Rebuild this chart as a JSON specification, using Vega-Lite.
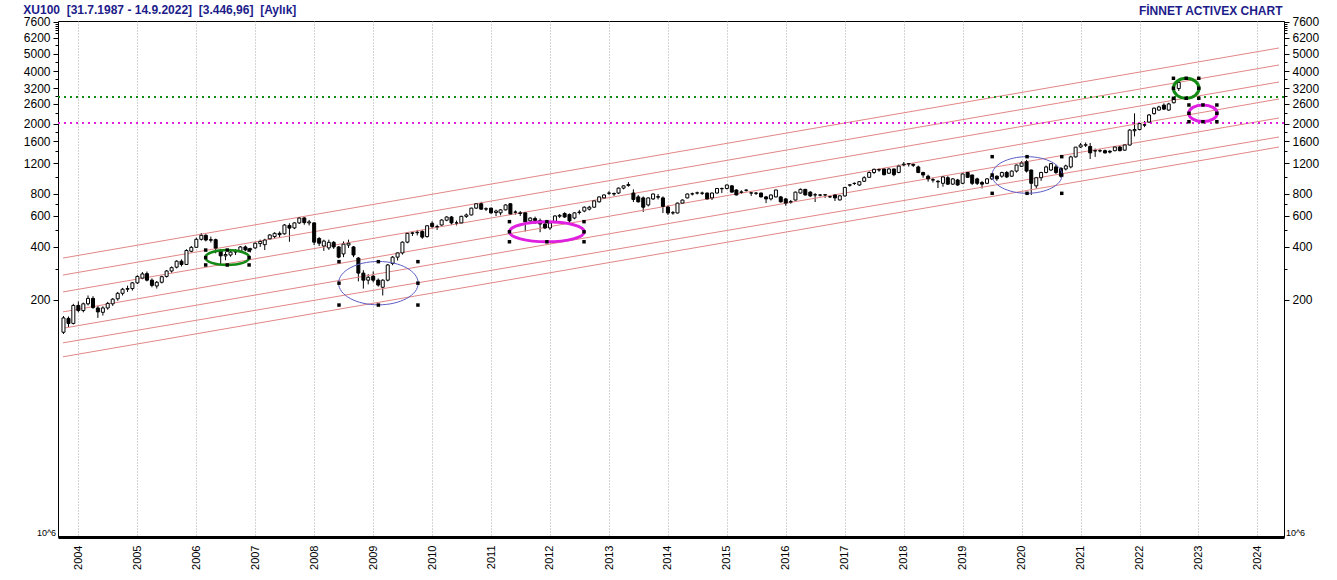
{
  "$schema": "https://vega.github.io/schema/vega-lite/v6.json",
  "autosize": "none",
  "width": 1226,
  "height": 516,
  "padding": {"left": 58, "top": 21, "right": 53, "bottom": 43},
  "background": "white",
  "title": {
    "text": "XU100\u00a0 [31.7.1987 - 14.9.2022]\u00a0 [3.446,96]\u00a0 [Aylık]",
    "anchor": "start",
    "frame": "bounds",
    "font": "Liberation Sans",
    "fontSize": 12,
    "fontWeight": "bold",
    "color": "#1c1c8a",
    "offset": 0,
    "dy": 13
  },
  "config": {
    "font": "Liberation Sans",
    "view": {"stroke": "black", "strokeWidth": 1}
  },
  "datasets": {
    "ohlc": [
      {"d": "2003-10-01", "o": 131, "h": 162, "l": 128, "c": 158},
      {"d": "2003-11-01", "o": 157, "h": 161, "l": 140, "c": 147},
      {"d": "2003-12-01", "o": 147, "h": 190, "l": 145, "c": 186},
      {"d": "2004-01-01", "o": 186, "h": 196, "l": 170, "c": 174},
      {"d": "2004-02-01", "o": 174, "h": 193, "l": 170, "c": 190},
      {"d": "2004-03-01", "o": 190, "h": 212, "l": 186, "c": 204},
      {"d": "2004-04-01", "o": 204, "h": 210, "l": 178, "c": 181},
      {"d": "2004-05-01", "o": 180, "h": 185, "l": 158, "c": 171},
      {"d": "2004-06-01", "o": 170, "h": 184, "l": 163, "c": 180},
      {"d": "2004-07-01", "o": 180, "h": 195, "l": 176, "c": 191},
      {"d": "2004-08-01", "o": 190, "h": 205, "l": 185, "c": 202},
      {"d": "2004-09-01", "o": 203, "h": 222, "l": 198, "c": 218},
      {"d": "2004-10-01", "o": 218, "h": 234, "l": 212, "c": 230},
      {"d": "2004-11-01", "o": 230, "h": 241, "l": 222, "c": 232},
      {"d": "2004-12-01", "o": 232, "h": 253, "l": 226, "c": 250},
      {"d": "2005-01-01", "o": 250, "h": 276, "l": 246, "c": 272},
      {"d": "2005-02-01", "o": 266, "h": 288, "l": 262, "c": 281},
      {"d": "2005-03-01", "o": 282, "h": 290, "l": 255, "c": 259},
      {"d": "2005-04-01", "o": 259, "h": 265, "l": 236, "c": 242},
      {"d": "2005-05-01", "o": 240, "h": 256, "l": 232, "c": 252},
      {"d": "2005-06-01", "o": 252, "h": 275, "l": 248, "c": 271},
      {"d": "2005-07-01", "o": 272, "h": 296, "l": 268, "c": 292},
      {"d": "2005-08-01", "o": 292, "h": 310, "l": 285, "c": 305},
      {"d": "2005-09-01", "o": 307, "h": 336, "l": 302, "c": 332},
      {"d": "2005-10-01", "o": 332, "h": 340, "l": 310, "c": 318},
      {"d": "2005-11-01", "o": 318, "h": 388, "l": 316, "c": 382},
      {"d": "2005-12-01", "o": 378, "h": 405, "l": 372, "c": 398},
      {"d": "2006-01-01", "o": 398, "h": 452, "l": 395, "c": 442},
      {"d": "2006-02-01", "o": 442, "h": 480, "l": 435, "c": 466},
      {"d": "2006-03-01", "o": 466, "h": 472, "l": 430, "c": 438},
      {"d": "2006-04-01", "o": 440, "h": 458, "l": 424, "c": 437},
      {"d": "2006-05-01", "o": 440, "h": 446, "l": 368, "c": 394},
      {"d": "2006-06-01", "o": 382, "h": 388, "l": 318, "c": 356},
      {"d": "2006-07-01", "o": 356, "h": 375, "l": 336, "c": 362},
      {"d": "2006-08-01", "o": 360, "h": 382, "l": 352, "c": 374},
      {"d": "2006-09-01", "o": 374, "h": 388, "l": 360, "c": 378},
      {"d": "2006-10-01", "o": 378, "h": 405, "l": 372, "c": 400},
      {"d": "2006-11-01", "o": 400, "h": 408, "l": 378, "c": 385},
      {"d": "2006-12-01", "o": 385, "h": 396, "l": 372, "c": 391},
      {"d": "2007-01-01", "o": 395, "h": 425, "l": 390, "c": 420},
      {"d": "2007-02-01", "o": 418, "h": 440, "l": 400, "c": 430},
      {"d": "2007-03-01", "o": 412, "h": 445, "l": 384, "c": 438},
      {"d": "2007-04-01", "o": 445, "h": 472, "l": 440, "c": 468},
      {"d": "2007-05-01", "o": 458, "h": 485, "l": 448, "c": 478},
      {"d": "2007-06-01", "o": 478, "h": 490, "l": 450, "c": 470},
      {"d": "2007-07-01", "o": 475, "h": 540, "l": 470, "c": 533},
      {"d": "2007-08-01", "o": 530, "h": 545, "l": 428, "c": 512},
      {"d": "2007-09-01", "o": 513, "h": 552, "l": 505, "c": 548},
      {"d": "2007-10-01", "o": 548, "h": 592, "l": 540, "c": 584},
      {"d": "2007-11-01", "o": 585, "h": 590, "l": 535, "c": 550},
      {"d": "2007-12-01", "o": 548, "h": 570, "l": 530, "c": 555},
      {"d": "2008-01-01", "o": 548, "h": 552, "l": 410, "c": 426},
      {"d": "2008-02-01", "o": 447, "h": 455, "l": 405, "c": 420},
      {"d": "2008-03-01", "o": 405, "h": 440, "l": 380, "c": 432},
      {"d": "2008-04-01", "o": 395, "h": 440, "l": 385, "c": 425},
      {"d": "2008-05-01", "o": 425, "h": 432, "l": 390, "c": 400},
      {"d": "2008-06-01", "o": 400, "h": 405, "l": 345, "c": 350},
      {"d": "2008-07-01", "o": 365, "h": 430, "l": 350, "c": 415},
      {"d": "2008-08-01", "o": 410, "h": 440, "l": 395, "c": 420},
      {"d": "2008-09-01", "o": 400, "h": 405, "l": 350, "c": 360},
      {"d": "2008-10-01", "o": 346, "h": 350, "l": 255, "c": 284},
      {"d": "2008-11-01", "o": 284, "h": 295, "l": 232, "c": 259},
      {"d": "2008-12-01", "o": 259, "h": 280, "l": 245, "c": 269},
      {"d": "2009-01-01", "o": 273, "h": 290, "l": 252, "c": 259},
      {"d": "2009-02-01", "o": 259, "h": 265, "l": 238, "c": 243},
      {"d": "2009-03-01", "o": 236, "h": 262, "l": 212, "c": 259},
      {"d": "2009-04-01", "o": 259, "h": 320, "l": 255, "c": 316},
      {"d": "2009-05-01", "o": 322, "h": 355, "l": 315, "c": 350},
      {"d": "2009-06-01", "o": 350, "h": 372, "l": 335, "c": 370},
      {"d": "2009-07-01", "o": 370, "h": 430, "l": 362, "c": 426},
      {"d": "2009-08-01", "o": 426, "h": 482, "l": 420, "c": 478},
      {"d": "2009-09-01", "o": 478, "h": 490, "l": 462, "c": 481},
      {"d": "2009-10-01", "o": 482, "h": 500, "l": 465, "c": 485},
      {"d": "2009-11-01", "o": 490, "h": 500, "l": 445, "c": 455},
      {"d": "2009-12-01", "o": 458, "h": 530, "l": 452, "c": 528},
      {"d": "2010-01-01", "o": 545, "h": 560, "l": 510, "c": 522},
      {"d": "2010-02-01", "o": 522, "h": 535, "l": 500, "c": 520},
      {"d": "2010-03-01", "o": 533, "h": 575, "l": 528, "c": 569},
      {"d": "2010-04-01", "o": 568, "h": 598, "l": 560, "c": 592},
      {"d": "2010-05-01", "o": 592, "h": 600, "l": 535, "c": 548},
      {"d": "2010-06-01", "o": 548, "h": 565, "l": 530, "c": 548},
      {"d": "2010-07-01", "o": 548, "h": 602, "l": 545, "c": 597},
      {"d": "2010-08-01", "o": 597, "h": 620, "l": 585, "c": 608},
      {"d": "2010-09-01", "o": 608, "h": 668, "l": 604, "c": 665},
      {"d": "2010-10-01", "o": 665, "h": 710, "l": 658, "c": 704},
      {"d": "2010-11-01", "o": 704, "h": 722, "l": 650, "c": 656},
      {"d": "2010-12-01", "o": 656, "h": 672, "l": 640, "c": 660},
      {"d": "2011-01-01", "o": 665, "h": 668, "l": 618, "c": 625},
      {"d": "2011-02-01", "o": 628, "h": 652, "l": 600, "c": 640},
      {"d": "2011-03-01", "o": 625, "h": 655, "l": 605, "c": 650},
      {"d": "2011-04-01", "o": 650, "h": 700, "l": 645, "c": 693},
      {"d": "2011-05-01", "o": 704, "h": 708, "l": 610, "c": 616},
      {"d": "2011-06-01", "o": 630, "h": 645, "l": 610, "c": 632},
      {"d": "2011-07-01", "o": 625, "h": 640, "l": 600, "c": 620},
      {"d": "2011-08-01", "o": 625, "h": 630, "l": 490, "c": 555},
      {"d": "2011-09-01", "o": 563, "h": 590, "l": 540, "c": 584},
      {"d": "2011-10-01", "o": 580, "h": 595, "l": 540, "c": 565},
      {"d": "2011-11-01", "o": 565, "h": 580, "l": 485, "c": 540},
      {"d": "2011-12-01", "o": 540, "h": 550, "l": 505, "c": 513},
      {"d": "2012-01-01", "o": 513, "h": 555, "l": 500, "c": 548},
      {"d": "2012-02-01", "o": 552, "h": 605, "l": 545, "c": 600},
      {"d": "2012-03-01", "o": 598, "h": 615, "l": 585, "c": 605},
      {"d": "2012-04-01", "o": 620, "h": 630, "l": 585, "c": 592},
      {"d": "2012-05-01", "o": 612, "h": 620, "l": 545, "c": 563},
      {"d": "2012-06-01", "o": 584, "h": 630, "l": 575, "c": 625},
      {"d": "2012-07-01", "o": 628, "h": 650, "l": 612, "c": 632},
      {"d": "2012-08-01", "o": 640, "h": 680, "l": 630, "c": 673},
      {"d": "2012-09-01", "o": 656, "h": 685, "l": 645, "c": 673},
      {"d": "2012-10-01", "o": 673, "h": 735, "l": 668, "c": 731},
      {"d": "2012-11-01", "o": 722, "h": 775, "l": 715, "c": 770},
      {"d": "2012-12-01", "o": 760, "h": 795, "l": 752, "c": 790},
      {"d": "2013-01-01", "o": 808, "h": 830, "l": 790, "c": 810},
      {"d": "2013-02-01", "o": 805, "h": 815, "l": 780, "c": 800},
      {"d": "2013-03-01", "o": 810, "h": 870, "l": 800, "c": 864},
      {"d": "2013-04-01", "o": 864, "h": 895, "l": 850, "c": 890},
      {"d": "2013-05-01", "o": 895, "h": 935, "l": 880, "c": 905},
      {"d": "2013-06-01", "o": 810, "h": 850, "l": 720, "c": 745},
      {"d": "2013-07-01", "o": 770, "h": 790, "l": 715, "c": 722},
      {"d": "2013-08-01", "o": 760, "h": 775, "l": 632, "c": 673},
      {"d": "2013-09-01", "o": 693, "h": 765, "l": 680, "c": 760},
      {"d": "2013-10-01", "o": 750, "h": 805, "l": 740, "c": 800},
      {"d": "2013-11-01", "o": 772, "h": 800, "l": 745, "c": 768},
      {"d": "2013-12-01", "o": 760, "h": 775, "l": 624, "c": 680},
      {"d": "2014-01-01", "o": 675, "h": 690, "l": 608, "c": 624},
      {"d": "2014-02-01", "o": 624, "h": 640, "l": 610, "c": 626},
      {"d": "2014-03-01", "o": 624, "h": 715, "l": 620, "c": 710},
      {"d": "2014-04-01", "o": 710, "h": 745, "l": 705, "c": 739},
      {"d": "2014-05-01", "o": 760, "h": 805, "l": 755, "c": 800},
      {"d": "2014-06-01", "o": 800, "h": 815, "l": 785, "c": 802},
      {"d": "2014-07-01", "o": 810, "h": 825, "l": 795, "c": 812},
      {"d": "2014-08-01", "o": 810, "h": 825, "l": 790, "c": 808},
      {"d": "2014-09-01", "o": 810, "h": 815, "l": 745, "c": 750},
      {"d": "2014-10-01", "o": 760, "h": 815, "l": 740, "c": 810},
      {"d": "2014-11-01", "o": 810, "h": 865, "l": 805, "c": 860},
      {"d": "2014-12-01", "o": 860, "h": 870, "l": 810, "c": 857},
      {"d": "2015-01-01", "o": 860, "h": 905, "l": 850, "c": 900},
      {"d": "2015-02-01", "o": 890, "h": 900, "l": 815, "c": 820},
      {"d": "2015-03-01", "o": 843, "h": 850, "l": 785, "c": 790},
      {"d": "2015-04-01", "o": 818, "h": 840, "l": 800, "c": 822},
      {"d": "2015-05-01", "o": 842, "h": 850, "l": 825, "c": 840},
      {"d": "2015-06-01", "o": 810, "h": 825, "l": 780, "c": 812},
      {"d": "2015-07-01", "o": 810, "h": 820, "l": 790, "c": 808},
      {"d": "2015-08-01", "o": 810, "h": 815, "l": 765, "c": 770},
      {"d": "2015-09-01", "o": 770, "h": 780, "l": 710, "c": 750},
      {"d": "2015-10-01", "o": 750, "h": 795, "l": 735, "c": 790},
      {"d": "2015-11-01", "o": 770, "h": 845, "l": 765, "c": 843},
      {"d": "2015-12-01", "o": 770, "h": 780, "l": 715, "c": 722},
      {"d": "2016-01-01", "o": 750, "h": 760, "l": 686, "c": 710},
      {"d": "2016-02-01", "o": 720, "h": 740, "l": 705, "c": 724},
      {"d": "2016-03-01", "o": 739, "h": 825, "l": 735, "c": 820},
      {"d": "2016-04-01", "o": 810, "h": 860, "l": 805, "c": 850},
      {"d": "2016-05-01", "o": 850, "h": 855, "l": 785, "c": 790},
      {"d": "2016-06-01", "o": 820, "h": 830, "l": 770, "c": 780},
      {"d": "2016-07-01", "o": 790, "h": 810, "l": 720, "c": 792},
      {"d": "2016-08-01", "o": 790, "h": 800, "l": 775, "c": 788},
      {"d": "2016-09-01", "o": 790, "h": 800, "l": 760, "c": 792},
      {"d": "2016-10-01", "o": 770, "h": 785, "l": 760, "c": 772},
      {"d": "2016-11-01", "o": 790, "h": 795, "l": 730, "c": 760},
      {"d": "2016-12-01", "o": 740, "h": 785, "l": 735, "c": 781},
      {"d": "2017-01-01", "o": 780, "h": 875, "l": 775, "c": 872},
      {"d": "2017-02-01", "o": 898, "h": 910, "l": 880, "c": 902},
      {"d": "2017-03-01", "o": 918, "h": 930, "l": 900, "c": 920},
      {"d": "2017-04-01", "o": 900, "h": 945, "l": 890, "c": 940},
      {"d": "2017-05-01", "o": 945, "h": 1010, "l": 935, "c": 990},
      {"d": "2017-06-01", "o": 995, "h": 1075, "l": 990, "c": 1060},
      {"d": "2017-07-01", "o": 1060, "h": 1115, "l": 1040, "c": 1105},
      {"d": "2017-08-01", "o": 1100, "h": 1120, "l": 1070, "c": 1095},
      {"d": "2017-09-01", "o": 1110, "h": 1115, "l": 1020, "c": 1030},
      {"d": "2017-10-01", "o": 1050, "h": 1120, "l": 1040, "c": 1110},
      {"d": "2017-11-01", "o": 1110, "h": 1115, "l": 1010, "c": 1030},
      {"d": "2017-12-01", "o": 1060, "h": 1175, "l": 1050, "c": 1153},
      {"d": "2018-01-01", "o": 1170, "h": 1215, "l": 1150, "c": 1182},
      {"d": "2018-02-01", "o": 1185, "h": 1200, "l": 1145, "c": 1190},
      {"d": "2018-03-01", "o": 1180, "h": 1190, "l": 1140, "c": 1165},
      {"d": "2018-04-01", "o": 1140, "h": 1160, "l": 1050, "c": 1060},
      {"d": "2018-05-01", "o": 1060, "h": 1070, "l": 990, "c": 1026},
      {"d": "2018-06-01", "o": 1010, "h": 1030, "l": 940, "c": 975},
      {"d": "2018-07-01", "o": 965, "h": 990, "l": 930, "c": 960},
      {"d": "2018-08-01", "o": 945, "h": 960, "l": 865, "c": 938},
      {"d": "2018-09-01", "o": 920, "h": 1010, "l": 880, "c": 1000},
      {"d": "2018-10-01", "o": 990, "h": 1010, "l": 900, "c": 910},
      {"d": "2018-11-01", "o": 910, "h": 985, "l": 900, "c": 975},
      {"d": "2018-12-01", "o": 961, "h": 975, "l": 890, "c": 900},
      {"d": "2019-01-01", "o": 920, "h": 1045, "l": 910, "c": 1040},
      {"d": "2019-02-01", "o": 1060, "h": 1070, "l": 990, "c": 995},
      {"d": "2019-03-01", "o": 1026, "h": 1030, "l": 900, "c": 920},
      {"d": "2019-04-01", "o": 975, "h": 990, "l": 900, "c": 920},
      {"d": "2019-05-01", "o": 930, "h": 950, "l": 860, "c": 910},
      {"d": "2019-06-01", "o": 920, "h": 985, "l": 910, "c": 975},
      {"d": "2019-07-01", "o": 975, "h": 1040, "l": 960, "c": 1010},
      {"d": "2019-08-01", "o": 1010, "h": 1020, "l": 950, "c": 975},
      {"d": "2019-09-01", "o": 1010, "h": 1070, "l": 990, "c": 1060},
      {"d": "2019-10-01", "o": 1060, "h": 1080, "l": 985, "c": 1000},
      {"d": "2019-11-01", "o": 1010, "h": 1090, "l": 1000, "c": 1080},
      {"d": "2019-12-01", "o": 1080, "h": 1175, "l": 1060, "c": 1169},
      {"d": "2020-01-01", "o": 1150, "h": 1230, "l": 1140, "c": 1200},
      {"d": "2020-02-01", "o": 1220, "h": 1250, "l": 1060, "c": 1080},
      {"d": "2020-03-01", "o": 1095, "h": 1100, "l": 790, "c": 920},
      {"d": "2020-04-01", "o": 890, "h": 1000, "l": 860, "c": 990},
      {"d": "2020-05-01", "o": 990, "h": 1070, "l": 950, "c": 1060},
      {"d": "2020-06-01", "o": 1060, "h": 1160, "l": 1050, "c": 1140},
      {"d": "2020-07-01", "o": 1095, "h": 1200, "l": 1080, "c": 1190},
      {"d": "2020-08-01", "o": 1140, "h": 1170, "l": 1040, "c": 1060},
      {"d": "2020-09-01", "o": 1120, "h": 1135, "l": 990, "c": 1010},
      {"d": "2020-10-01", "o": 1110, "h": 1175, "l": 1090, "c": 1155},
      {"d": "2020-11-01", "o": 1140, "h": 1320, "l": 1120, "c": 1300},
      {"d": "2020-12-01", "o": 1300, "h": 1480, "l": 1290, "c": 1477},
      {"d": "2021-01-01", "o": 1480, "h": 1560, "l": 1460, "c": 1520},
      {"d": "2021-02-01", "o": 1515, "h": 1570, "l": 1480, "c": 1525},
      {"d": "2021-03-01", "o": 1490, "h": 1560, "l": 1265, "c": 1370},
      {"d": "2021-04-01", "o": 1410, "h": 1450, "l": 1300, "c": 1405},
      {"d": "2021-05-01", "o": 1405, "h": 1440, "l": 1380, "c": 1410},
      {"d": "2021-06-01", "o": 1410, "h": 1430, "l": 1360, "c": 1370},
      {"d": "2021-07-01", "o": 1400, "h": 1420, "l": 1360, "c": 1385},
      {"d": "2021-08-01", "o": 1410, "h": 1490, "l": 1400, "c": 1480},
      {"d": "2021-09-01", "o": 1480, "h": 1500, "l": 1400, "c": 1410},
      {"d": "2021-10-01", "o": 1420, "h": 1530, "l": 1410, "c": 1520},
      {"d": "2021-11-01", "o": 1518, "h": 1870, "l": 1510, "c": 1847},
      {"d": "2021-12-01", "o": 1830, "h": 2300, "l": 1700, "c": 1860},
      {"d": "2022-01-01", "o": 1860, "h": 2040, "l": 1840, "c": 2010},
      {"d": "2022-02-01", "o": 1980, "h": 2080, "l": 1920, "c": 1970},
      {"d": "2022-03-01", "o": 2050, "h": 2280, "l": 2030, "c": 2250},
      {"d": "2022-04-01", "o": 2290, "h": 2480, "l": 2260, "c": 2460},
      {"d": "2022-05-01", "o": 2400, "h": 2540, "l": 2380, "c": 2500},
      {"d": "2022-06-01", "o": 2560, "h": 2620, "l": 2400, "c": 2430},
      {"d": "2022-07-01", "o": 2400, "h": 2640, "l": 2380, "c": 2600},
      {"d": "2022-08-01", "o": 2640, "h": 2850, "l": 2620, "c": 2800},
      {"d": "2022-09-01", "o": 3180, "h": 3540, "l": 3080, "c": 3447}
    ],
    "channel": [
      {"d0": "2003-09-28", "d1": "2024-05-14", "v0": 346, "v1": 5409},
      {"d0": "2003-09-28", "d1": "2024-05-14", "v0": 277, "v1": 4330},
      {"d0": "2003-09-28", "d1": "2024-05-14", "v0": 222, "v1": 3465},
      {"d0": "2003-09-28", "d1": "2024-05-14", "v0": 171, "v1": 2775},
      {"d0": "2003-09-28", "d1": "2024-05-14", "v0": 138, "v1": 2164},
      {"d0": "2003-09-28", "d1": "2024-05-14", "v0": 114, "v1": 1687},
      {"d0": "2003-09-28", "d1": "2024-05-14", "v0": 95, "v1": 1480}
    ],
    "levels": [
      {"k": "green", "v": 2850},
      {"k": "magenta", "v": 2025}
    ],
    "ellipses": [
      {"id": "e1", "d": "2006-07-12", "v": 348},
      {"id": "e2", "d": "2009-02-02", "v": 249},
      {"id": "e3", "d": "2011-12-13", "v": 488},
      {"id": "e4", "d": "2020-02-04", "v": 1026},
      {"id": "e5", "d": "2022-10-17", "v": 3192},
      {"id": "e6", "d": "2023-01-29", "v": 2301}
    ],
    "handles": [
      {"d": "2006-02-28", "v": 384}, {"d": "2006-07-12", "v": 384}, {"d": "2006-11-24", "v": 384},
      {"d": "2006-02-28", "v": 348}, {"d": "2006-11-24", "v": 348},
      {"d": "2006-02-28", "v": 316}, {"d": "2006-07-12", "v": 316}, {"d": "2006-11-24", "v": 316},
      {"d": "2008-06-03", "v": 330}, {"d": "2009-02-02", "v": 330}, {"d": "2009-10-05", "v": 330},
      {"d": "2008-06-03", "v": 249}, {"d": "2009-10-05", "v": 249},
      {"d": "2008-06-03", "v": 187}, {"d": "2009-02-02", "v": 187}, {"d": "2009-10-05", "v": 187},
      {"d": "2011-04-25", "v": 557}, {"d": "2011-12-13", "v": 557}, {"d": "2012-07-30", "v": 557},
      {"d": "2011-04-25", "v": 488}, {"d": "2012-07-30", "v": 488},
      {"d": "2011-04-25", "v": 428}, {"d": "2011-12-13", "v": 428}, {"d": "2012-07-30", "v": 428},
      {"d": "2019-07-03", "v": 1304}, {"d": "2020-02-04", "v": 1304}, {"d": "2020-09-06", "v": 1304},
      {"d": "2019-07-03", "v": 1026}, {"d": "2020-09-06", "v": 1026},
      {"d": "2019-07-03", "v": 807}, {"d": "2020-02-04", "v": 807}, {"d": "2020-09-06", "v": 807},
      {"d": "2022-07-30", "v": 3638}, {"d": "2022-10-17", "v": 3638}, {"d": "2023-01-03", "v": 3638},
      {"d": "2022-07-30", "v": 3192}, {"d": "2023-01-03", "v": 3192},
      {"d": "2022-07-30", "v": 2800}, {"d": "2022-10-17", "v": 2800}, {"d": "2023-01-03", "v": 2800},
      {"d": "2022-11-03", "v": 2565}, {"d": "2023-01-29", "v": 2565}, {"d": "2023-04-25", "v": 2565},
      {"d": "2022-11-03", "v": 2301}, {"d": "2023-04-25", "v": 2301},
      {"d": "2022-11-03", "v": 2061}, {"d": "2023-01-29", "v": 2061}, {"d": "2023-04-25", "v": 2061}
    ]
  },
  "resolve": {"axis": {"y": "independent"}},
  "layer": [
    {
      "data": {"name": "ohlc"},
      "mark": {"type": "rule", "color": "black", "strokeWidth": 1},
      "encoding": {
        "x": {"field": "d", "type": "temporal",
              "scale": {"domain": [{"year": 2003, "month": 9, "date": 28}, {"year": 2024, "month": 5, "date": 14}]},
              "axis": {
                "tickCount": {"interval": "year", "step": 1},
                "format": "%Y",
                "labelAngle": 270,
                "labelAlign": "right",
                "labelBaseline": "middle",
                "labelPadding": 8,
                "labelFontSize": 11,
                "labelColor": "black",
                "labelOverlap": false,
                "labelFlush": false,
                "ticks": false,
                "grid": true,
                "gridColor": "#a8a8a8",
                "gridDash": [1, 2],
                "domainColor": "black",
                "domainWidth": 3,
                "title": "10^6",
                "titleX": 1237,
                "titleY": -2,
                "titleAngle": 0,
                "titleAlign": "center",
                "titleBaseline": "alphabetic",
                "titleFontSize": 9,
                "titleFontWeight": "normal",
                "titleColor": "black"
              }},
        "y": {"field": "l", "type": "quantitative",
              "scale": {"type": "log", "domain": [8.98, 7700], "nice": false},
              "axis": {
                "orient": "left",
                "values": [200, 300, 400, 500, 600, 700, 800, 1000, 1200, 1400, 1600, 1800, 2000, 2300, 2600, 2900, 3200, 3600, 4000, 4500, 5000, 5600, 6200, 6600, 6800, 7000, 7200, 7400, 7600],
                "format": "d",
                "labelExpr": "indexof([200,400,600,800,1200,1600,2000,2600,3200,4000,5000,6200,7600], datum.value) >= 0 ? datum.label : ''",
                "tickSize": {"condition": {"test": "indexof([200,400,600,800,1200,1600,2000,2600,3200,4000,5000,6200,7600], datum.value) >= 0", "value": 5}, "value": 3},
                "tickColor": "black",
                "labelColor": "black",
                "labelFontSize": 12,
                "labelPadding": 3,
                "labelOverlap": false,
                "domain": false,
                "grid": false,
                "title": "10^6",
                "titleAngle": 0,
                "titleX": -12,
                "titleY": 514,
                "titleAlign": "center",
                "titleBaseline": "alphabetic",
                "titleFontSize": 9,
                "titleFontWeight": "normal",
                "titleColor": "black"
              }},
        "y2": {"field": "h"}
      }
    },
    {
      "data": {"name": "channel"},
      "mark": {"type": "rule", "color": "#e38686", "strokeWidth": 1},
      "encoding": {
        "x": {"field": "d0", "type": "temporal",
              "scale": {"domain": [{"year": 2003, "month": 9, "date": 28}, {"year": 2024, "month": 5, "date": 14}]}},
        "x2": {"field": "d1"},
        "y": {"field": "v0", "type": "quantitative", "axis": null,
              "scale": {"type": "log", "domain": [8.98, 7700], "nice": false}},
        "y2": {"field": "v1"}
      }
    },
    {
      "data": {"name": "levels"},
      "mark": {"type": "rule", "strokeWidth": 2, "strokeDash": [2, 4]},
      "encoding": {
        "y": {"field": "v", "type": "quantitative",
              "scale": {"type": "log", "domain": [8.98, 7700], "nice": false},
              "axis": {
                "orient": "right",
                "values": [200, 300, 400, 500, 600, 700, 800, 1000, 1200, 1400, 1600, 1800, 2000, 2300, 2600, 2900, 3200, 3600, 4000, 4500, 5000, 5600, 6200, 6600, 6800, 7000, 7200, 7400, 7600],
                "format": "d",
                "labelExpr": "indexof([200,400,600,800,1200,1600,2000,2600,3200,4000,5000,6200,7600], datum.value) >= 0 ? datum.label : ''",
                "tickSize": {"condition": {"test": "indexof([200,400,600,800,1200,1600,2000,2600,3200,4000,5000,6200,7600], datum.value) >= 0", "value": 5}, "value": 3},
                "tickColor": "black",
                "labelColor": "black",
                "labelFontSize": 12,
                "labelPadding": 3,
                "labelOverlap": false,
                "domain": false,
                "grid": false,
                "title": "FİNNET ACTIVEX CHART",
                "titleAngle": 0,
                "titleX": -2,
                "titleY": -7,
                "titleAlign": "right",
                "titleBaseline": "alphabetic",
                "titleFontSize": 12,
                "titleFontWeight": "bold",
                "titleColor": "#1c1c8a"
              }},
        "color": {"field": "k", "type": "nominal", "legend": null,
                  "scale": {"domain": ["green", "magenta"], "range": ["#138a13", "#e020e0"]}}
      }
    },
    {
      "data": {"name": "ohlc"},
      "mark": {"type": "bar", "size": 3, "stroke": "black", "strokeWidth": 1},
      "encoding": {
        "x": {"field": "d", "type": "temporal",
              "scale": {"domain": [{"year": 2003, "month": 9, "date": 28}, {"year": 2024, "month": 5, "date": 14}]}},
        "y": {"field": "o", "type": "quantitative", "axis": null,
              "scale": {"type": "log", "domain": [8.98, 7700], "nice": false}},
        "y2": {"field": "c"},
        "fill": {"condition": {"test": "datum.c >= datum.o", "value": "white"}, "value": "black"}
      }
    },
    {
      "data": {"name": "ellipses"},
      "transform": [{"filter": "datum.id == 'e1'"}],
      "mark": {"type": "point", "filled": false, "opacity": 1, "stroke": "#138a13", "strokeWidth": 2.5, "size": 1936,
               "shape": "M1,0C1,0.188 0.552,0.341 0,0.341C-0.552,0.341 -1,0.188 -1,0C-1,-0.188 -0.552,-0.341 0,-0.341C0.552,-0.341 1,-0.188 1,0Z"},
      "encoding": {
        "x": {"field": "d", "type": "temporal",
              "scale": {"domain": [{"year": 2003, "month": 9, "date": 28}, {"year": 2024, "month": 5, "date": 14}]}},
        "y": {"field": "v", "type": "quantitative", "axis": null,
              "scale": {"type": "log", "domain": [8.98, 7700], "nice": false}}
      }
    },
    {
      "data": {"name": "ellipses"},
      "transform": [{"filter": "datum.id == 'e2'"}],
      "mark": {"type": "point", "filled": false, "opacity": 1, "stroke": "#5c5cc4", "strokeWidth": 1, "size": 6336,
               "shape": "M1,0C1,0.301 0.552,0.545 0,0.545C-0.552,0.545 -1,0.301 -1,0C-1,-0.301 -0.552,-0.545 0,-0.545C0.552,-0.545 1,-0.301 1,0Z"},
      "encoding": {
        "x": {"field": "d", "type": "temporal",
              "scale": {"domain": [{"year": 2003, "month": 9, "date": 28}, {"year": 2024, "month": 5, "date": 14}]}},
        "y": {"field": "v", "type": "quantitative", "axis": null,
              "scale": {"type": "log", "domain": [8.98, 7700], "nice": false}}
      }
    },
    {
      "data": {"name": "ellipses"},
      "transform": [{"filter": "datum.id == 'e3'"}],
      "mark": {"type": "point", "filled": false, "opacity": 1, "stroke": "#e020e0", "strokeWidth": 3, "size": 5625,
               "shape": "M1,0C1,0.147 0.552,0.267 0,0.267C-0.552,0.267 -1,0.147 -1,0C-1,-0.147 -0.552,-0.267 0,-0.267C0.552,-0.267 1,-0.147 1,0Z"},
      "encoding": {
        "x": {"field": "d", "type": "temporal",
              "scale": {"domain": [{"year": 2003, "month": 9, "date": 28}, {"year": 2024, "month": 5, "date": 14}]}},
        "y": {"field": "v", "type": "quantitative", "axis": null,
              "scale": {"type": "log", "domain": [8.98, 7700], "nice": false}}
      }
    },
    {
      "data": {"name": "ellipses"},
      "transform": [{"filter": "datum.id == 'e4'"}],
      "mark": {"type": "point", "filled": false, "opacity": 1, "stroke": "#5c5cc4", "strokeWidth": 1, "size": 4900,
               "shape": "M1,0C1,0.289 0.552,0.523 0,0.523C-0.552,0.523 -1,0.289 -1,0C-1,-0.289 -0.552,-0.523 0,-0.523C0.552,-0.523 1,-0.289 1,0Z"},
      "encoding": {
        "x": {"field": "d", "type": "temporal",
              "scale": {"domain": [{"year": 2003, "month": 9, "date": 28}, {"year": 2024, "month": 5, "date": 14}]}},
        "y": {"field": "v", "type": "quantitative", "axis": null,
              "scale": {"type": "log", "domain": [8.98, 7700], "nice": false}}
      }
    },
    {
      "data": {"name": "ellipses"},
      "transform": [{"filter": "datum.id == 'e5'"}],
      "mark": {"type": "point", "filled": false, "opacity": 1, "stroke": "#138a13", "strokeWidth": 3, "size": 655,
               "shape": "M1,0C1,0.431 0.552,0.78 0,0.78C-0.552,0.78 -1,0.431 -1,0C-1,-0.431 -0.552,-0.78 0,-0.78C0.552,-0.78 1,-0.431 1,0Z"},
      "encoding": {
        "x": {"field": "d", "type": "temporal",
              "scale": {"domain": [{"year": 2003, "month": 9, "date": 28}, {"year": 2024, "month": 5, "date": 14}]}},
        "y": {"field": "v", "type": "quantitative", "axis": null,
              "scale": {"type": "log", "domain": [8.98, 7700], "nice": false}}
      }
    },
    {
      "data": {"name": "ellipses"},
      "transform": [{"filter": "datum.id == 'e6'"}],
      "mark": {"type": "point", "filled": false, "opacity": 1, "stroke": "#e020e0", "strokeWidth": 3, "size": 807,
               "shape": "M1,0C1,0.323 0.552,0.585 0,0.585C-0.552,0.585 -1,0.323 -1,0C-1,-0.323 -0.552,-0.585 0,-0.585C0.552,-0.585 1,-0.323 1,0Z"},
      "encoding": {
        "x": {"field": "d", "type": "temporal",
              "scale": {"domain": [{"year": 2003, "month": 9, "date": 28}, {"year": 2024, "month": 5, "date": 14}]}},
        "y": {"field": "v", "type": "quantitative", "axis": null,
              "scale": {"type": "log", "domain": [8.98, 7700], "nice": false}}
      }
    },
    {
      "data": {"name": "handles"},
      "mark": {"type": "point", "shape": "square", "filled": true, "opacity": 1, "color": "black", "size": 12},
      "encoding": {
        "x": {"field": "d", "type": "temporal",
              "scale": {"domain": [{"year": 2003, "month": 9, "date": 28}, {"year": 2024, "month": 5, "date": 14}]}},
        "y": {"field": "v", "type": "quantitative", "axis": null,
              "scale": {"type": "log", "domain": [8.98, 7700], "nice": false}}
      }
    }
  ]
}
